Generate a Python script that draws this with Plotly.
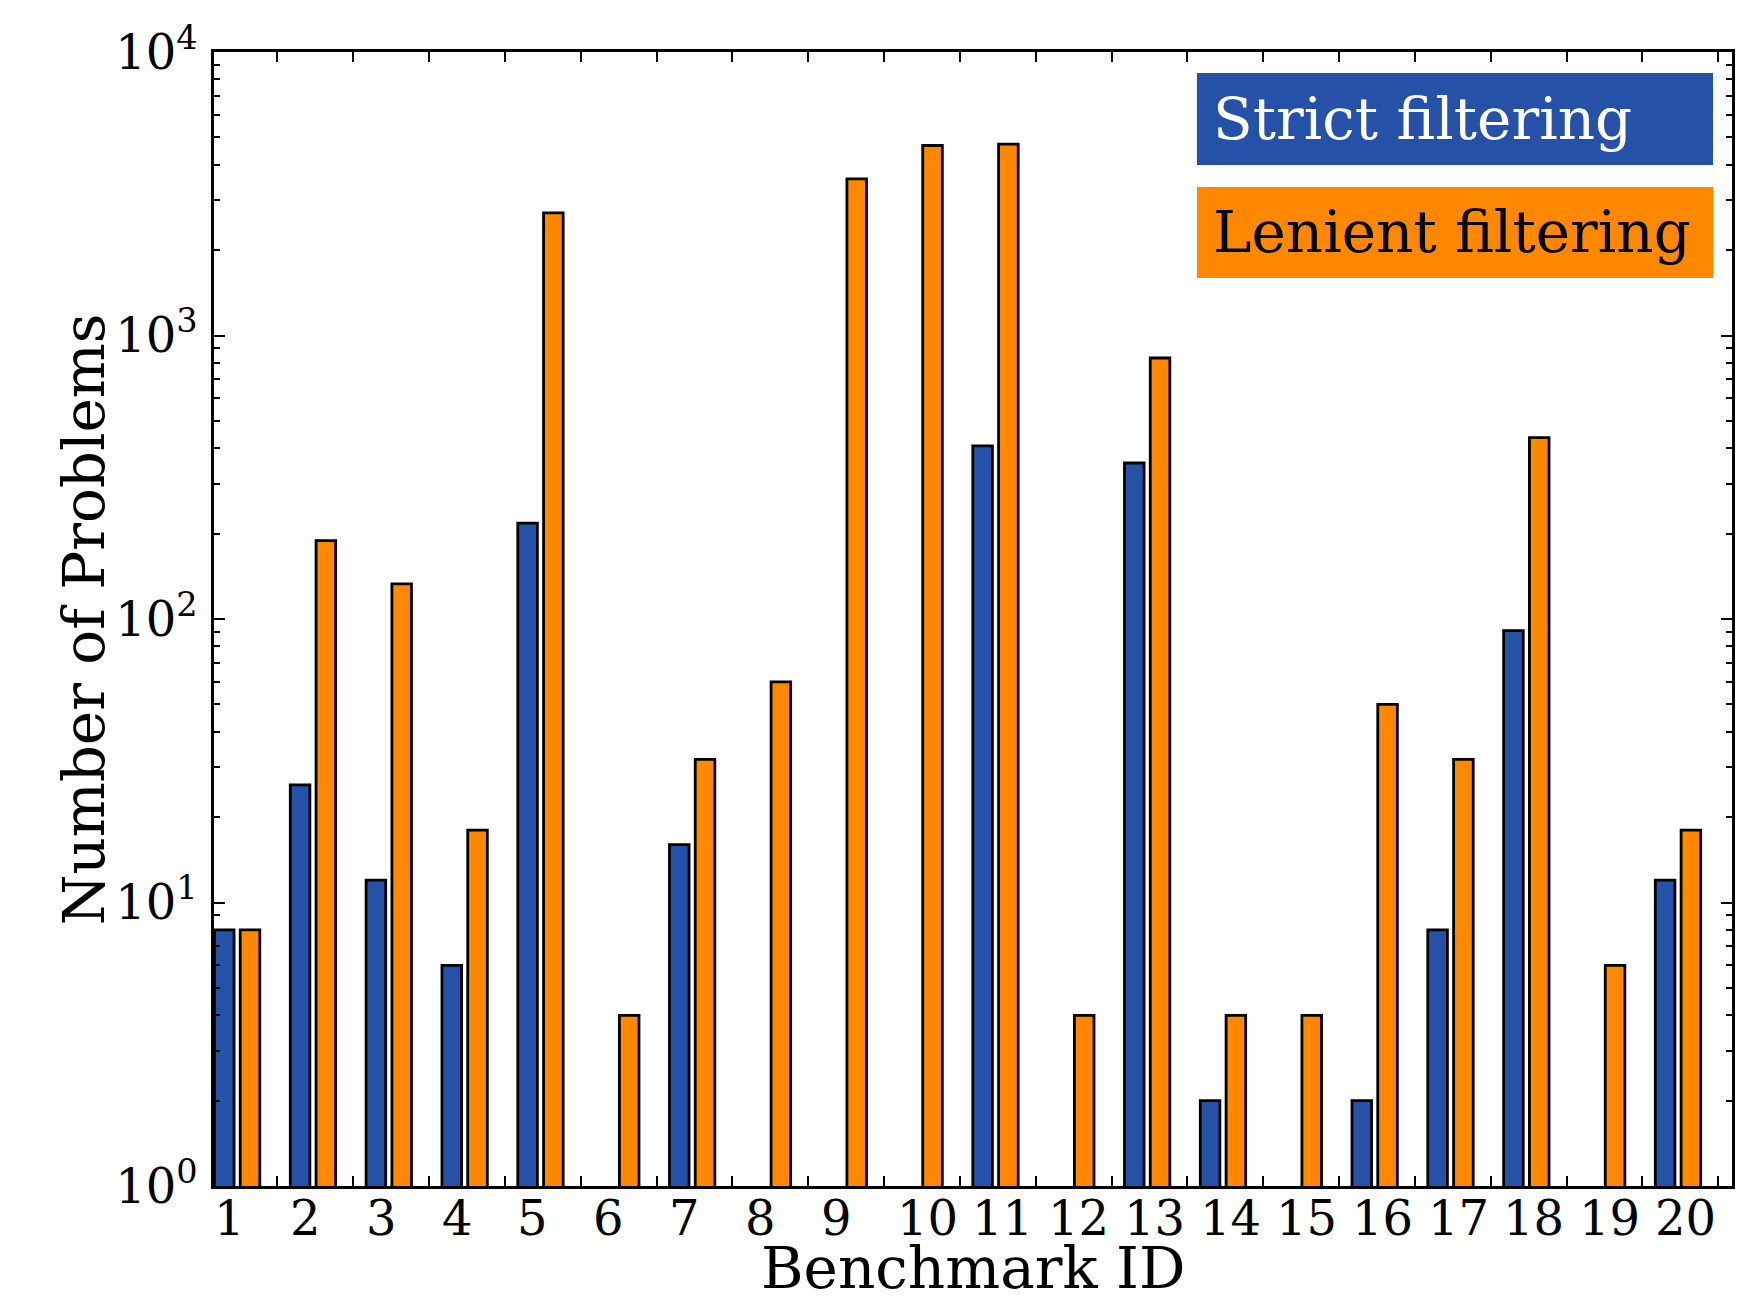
import plotly.graph_objects as go

# ---- data ----
benchmark_ids = list(range(1, 21))
strict_counts = [8, 26, 12, 6, 218, None, 16, None, None, None,
                 408, None, 355, 2, None, 2, 8, 91, None, 12]
lenient_counts = [8, 189, 133, 18, 2706, 4, 32, 60, 3570, 4680,
                  4730, 4, 833, 4, 4, 50, 32, 436, 6, 18]
series_names = ["Strict filtering", "Lenient filtering"]
y_tick_values = [1, 10, 100, 1000, 10000]
y_tick_labels = ["10<sup>0</sup>", "10<sup>1</sup>", "10<sup>2</sup>",
                 "10<sup>3</sup>", "10<sup>4</sup>"]
x_title = "Benchmark ID"
y_title = "Number of Problems"

# ---- style ----
FONT = "DejaVu Serif"
BLUE = "#2651A8"
ORANGE = "#FF8800"
YTICK_FS = 48
XTICK_FS = 48
TITLE_FS = 58
LEG_FS = 58

fig = go.Figure()
fig.add_trace(go.Bar(x=benchmark_ids, y=strict_counts, name=series_names[0],
                     marker=dict(color=BLUE, line=dict(color="black", width=2.8))))
fig.add_trace(go.Bar(x=benchmark_ids, y=lenient_counts, name=series_names[1],
                     marker=dict(color=ORANGE, line=dict(color="black", width=2.8))))

# page body has an 8px margin; figure sized/margined to compensate
fig.update_layout(
    width=1756, height=1290,
    margin=dict(l=206, r=32, t=44, b=112, autoexpand=False),
    paper_bgcolor="white", plot_bgcolor="white",
    barmode="group", bargap=0.32, bargroupgap=0.24,
    showlegend=False,
    font=dict(family=FONT, color="black", size=YTICK_FS),
)

fig.update_xaxes(
    range=[0.695, 20.712],
    tickmode="array",
    tickvals=[i + 0.53 for i in benchmark_ids],
    showticklabels=False,
    ticks="inside", ticklen=10, tickwidth=1.5, tickcolor="black",
    showline=True, linecolor="black", linewidth=2.5, mirror="allticks",
    showgrid=False, zeroline=False, automargin=False,
)

fig.update_yaxes(
    type="log", range=[0, 4],
    tickmode="array", tickvals=y_tick_values, ticktext=y_tick_labels,
    ticks="inside", ticklen=11, tickwidth=1.5, tickcolor="black",
    minor=dict(ticks="inside", ticklen=6, tickwidth=1.5, tickcolor="black", dtick="D1"),
    showline=True, linecolor="black", linewidth=2.5, mirror="allticks",
    showgrid=False, zeroline=False, automargin=False,
    tickfont=dict(family=FONT, size=YTICK_FS),
    ticklabelstandoff=4,
)

# axis titles
fig.add_annotation(x=-0.0854, y=0.5, xref="paper", yref="paper",
                   text=y_title, textangle=-90, showarrow=False,
                   xanchor="center", yanchor="middle",
                   font=dict(family=FONT, size=TITLE_FS, color="black"))
fig.add_annotation(x=0.5, y=-0.0719, xref="paper", yref="paper",
                   text=x_title, showarrow=False,
                   xanchor="center", yanchor="middle", height=60, valign="middle",
                   font=dict(family=FONT, size=TITLE_FS, color="black"))

# x tick labels (left-aligned under each group, as in the original)
for bid in benchmark_ids:
    fig.add_annotation(x=bid, y=0, xref="x", yref="paper",
                       text=str(bid), showarrow=False, xanchor="left", yanchor="top",
                       xshift=-25, yshift=-2,
                       font=dict(family=FONT, size=XTICK_FS, color="black"))

# legend boxes
legend_boxes = [
    (series_names[0], BLUE, "white", 0.9815, 0.9004),
    (series_names[1], ORANGE, "black", 0.881, 0.8007),
]
for name, fill, txt_col, y1, y0 in legend_boxes:
    fig.add_shape(type="rect", xref="paper", yref="paper",
                  x0=0.6475, x1=0.9875, y0=y0, y1=y1,
                  fillcolor=fill, line=dict(width=0), layer="above")
    fig.add_annotation(x=0.657, y=(y0 + y1) / 2, xref="paper", yref="paper",
                       text=name, showarrow=False, xanchor="left", yanchor="middle",
                       font=dict(family=FONT, size=LEG_FS, color=txt_col))

fig.write_html("out.html")
